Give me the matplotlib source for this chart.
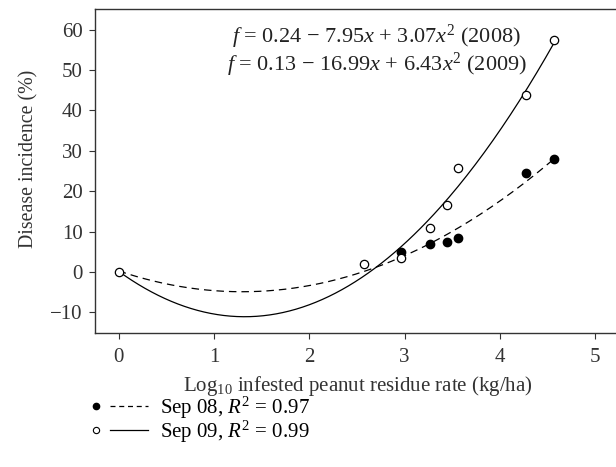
import matplotlib.pyplot as plt
import numpy as np
from matplotlib.lines import Line2D

plt.rcParams['font.family'] = ['Liberation Serif', 'DejaVu Serif']
plt.rcParams['mathtext.fontset'] = 'custom'
plt.rcParams['mathtext.rm'] = 'Liberation Serif'
plt.rcParams['mathtext.it'] = 'Liberation Serif:italic'

x_2008 = [2.96, 3.27, 3.44, 3.56, 4.27, 4.57]
y_2008 = [5.0, 6.8, 7.5, 8.5, 24.4, 27.9]
x_2009 = [0.0, 2.57, 2.96, 3.27, 3.44, 3.56, 4.27, 4.57]
y_2009 = [0.0, 2.0, 3.5, 10.8, 16.6, 25.8, 43.8, 57.3]

# Fitted quadratic coefficients (c0, c1, c2) as printed on the chart
coef_2008 = [0.24, -7.95, 3.07]
coef_2009 = [0.13, -16.99, 6.43]

xfit = np.linspace(0, 4.57, 200)
fit_2008 = coef_2008[0] + coef_2008[1] * xfit + coef_2008[2] * xfit ** 2
fit_2009 = coef_2009[0] + coef_2009[1] * xfit + coef_2009[2] * xfit ** 2


class MarkerLineHandler:
    """legend key: marker on the left, line sample on the right"""
    def __init__(self, marker_kw, line_kw):
        self.marker_kw = marker_kw
        self.line_kw = line_kw

    def legend_artist(self, legend, orig_handle, fontsize, handlebox):
        w, h = handlebox.width, handlebox.height
        x0, y0 = handlebox.xdescent, handlebox.ydescent
        yc = h / 2 - y0
        m = Line2D([-x0 + 0.1 * w], [yc], ls='none', **self.marker_kw)
        ln = Line2D([-x0 + 0.35 * w, -x0 + w], [yc, yc], **self.line_kw)
        handlebox.add_artist(ln)
        handlebox.add_artist(m)
        return ln


fig = plt.figure(figsize=(6.16, 4.67), dpi=100)
ax = fig.add_axes([0.1542, 0.288, 0.8458, 0.692])

ax.plot(xfit, fit_2008, color='black', lw=0.9, dashes=(6, 4))
ax.plot(xfit, fit_2009, color='black', lw=0.9)
ax.plot(x_2008, y_2008, 'o', color='black', ms=6, zorder=3)
ax.plot(x_2009, y_2009, 'o', mfc='white', mec='black', mew=0.9, ms=6, zorder=4)

ax.set_xlim(-0.249, 5.218)
ax.set_ylim(-15, 65)
ax.set_xticks([0, 1, 2, 3, 4, 5])
ax.set_yticks([-10, 0, 10, 20, 30, 40, 50, 60])
ax.spines['right'].set_visible(False)
for s in ['left', 'bottom', 'top']:
    ax.spines[s].set_color('#333333')
    ax.spines[s].set_linewidth(1.0)
ax.tick_params(direction='out', length=4, width=0.8, color='#333333',
               labelsize=15, labelcolor='#333333')
ax.tick_params(axis='x', pad=7)
ax.tick_params(axis='y', pad=5)

ax.set_xlabel(r'Log$_{10}$ infested peanut residue rate (kg/ha)', fontsize=15,
              color='#333333', labelpad=5, x=0.505)
ax.set_ylabel('Disease incidence (%)', fontsize=14.3, color='#333333',
              labelpad=8, y=0.537)

ax.text(0.541, 0.896, r'$f$ = 0.24 − 7.95$x$ + 3.07$x^2$ (2008)', transform=ax.transAxes,
        ha='center', va='baseline', fontsize=16, color='#222222')
ax.text(0.541, 0.809, r'$f$ = 0.13 − 16.99$x$ + 6.43$x^2$ (2009)', transform=ax.transAxes,
        ha='center', va='baseline', fontsize=16, color='#222222')

h1 = Line2D([], [])
h2 = Line2D([], [])
hmap = {
    h1: MarkerLineHandler(dict(marker='o', color='black', ms=4.5),
                          dict(color='black', lw=0.9, dashes=(4, 3))),
    h2: MarkerLineHandler(dict(marker='o', mfc='white', mec='black', ms=4.5, mew=0.8),
                          dict(color='black', lw=0.9)),
}
fig.legend([h1, h2], [r'Sep 08, $R^2$ = 0.97', r'Sep 09, $R^2$ = 0.99'],
           handler_map=hmap, loc='upper left', bbox_to_anchor=(0.146, 0.155),
           frameon=False, fontsize=15, handlelength=2.8, handletextpad=0.55,
           labelspacing=-0.1, borderaxespad=0, borderpad=0)

fig.savefig('out.png', dpi=100)
